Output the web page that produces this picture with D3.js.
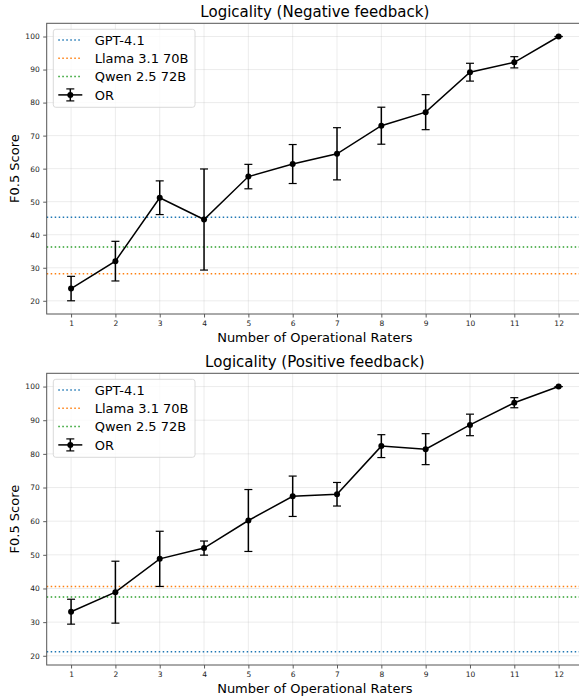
<!DOCTYPE html>
<html>
<head>
  <meta charset="utf-8">
  <script src="https://d3js.org/d3.v7.min.js"></script>
  <style>
    body { margin: 0; background: #fff; }
    svg { display: block; font-family: "DejaVu Sans", sans-serif; }
  </style>
</head>
<body>
  <svg width="579" height="697"></svg>
  <script>
    // data
    const raters = [1, 2, 3, 4, 5, 6, 7, 8, 9, 10, 11, 12];
    const xTicks = [1, 2, 3, 4, 5, 6, 7, 8, 9, 10, 11, 12];
    const yTicks = [20, 30, 40, 50, 60, 70, 80, 90, 100];

    const negMean = [23.7, 32.0, 51.2, 44.6, 57.6, 61.4, 64.5, 73.0, 77.1, 89.2, 92.2, 100];
    const negErr  = [3.7, 6.0, 5.1, 15.3, 3.7, 5.9, 7.9, 5.6, 5.3, 2.7, 1.7, 0];
    const negBase = [45.3, 28.2, 36.3];   // GPT-4.1, Llama, Qwen

    const posMean = [33.1, 38.9, 48.8, 52.0, 60.2, 67.4, 68.0, 82.3, 81.4, 88.6, 95.2, 100];
    const posErr  = [3.7, 9.2, 8.2, 2.1, 9.2, 6.0, 3.5, 3.4, 4.6, 3.2, 1.5, 0];
    const posBase = [21.2, 40.6, 37.5];

    const modelNames = ["GPT-4.1", "Llama 3.1 70B", "Qwen 2.5 72B"];
    const modelColors = ["#1f77b4", "#ff7f0e", "#2ca02c"];

    const svg = d3.select("svg");

    function drawPanel(top, bottom, title, mean, err, base, yDomain) {
      const left = 46.7, right = 583;
      const g = svg.append("g");

      const x = d3.scaleLinear().domain([0.45, 12.55]).range([left, right]);
      const y = d3.scaleLinear().domain(yDomain).range([bottom, top]);

      // grid
      g.append("g").selectAll("line").data(xTicks).join("line")
        .attr("x1", d => x(d)).attr("x2", d => x(d))
        .attr("y1", top).attr("y2", bottom)
        .attr("stroke", "#b0b0b0").attr("stroke-opacity", 0.3).attr("stroke-width", 0.8);
      g.append("g").selectAll("line").data(yTicks).join("line")
        .attr("x1", left).attr("x2", right)
        .attr("y1", d => y(d)).attr("y2", d => y(d))
        .attr("stroke", "#b0b0b0").attr("stroke-opacity", 0.3).attr("stroke-width", 0.8);

      // baseline models
      g.append("g").selectAll("line").data(base).join("line")
        .attr("x1", left).attr("x2", right)
        .attr("y1", d => y(d)).attr("y2", d => y(d))
        .attr("stroke", (d, i) => modelColors[i])
        .attr("stroke-width", 1.5)
        .attr("stroke-dasharray", "1.5,2.5");

      // error bars
      const eb = g.append("g").selectAll("g").data(raters).join("g");
      eb.append("line")
        .attr("x1", d => x(d)).attr("x2", d => x(d))
        .attr("y1", (d, i) => y(mean[i] - err[i]))
        .attr("y2", (d, i) => y(mean[i] + err[i]))
        .attr("stroke", "#000").attr("stroke-width", 1.5);
      eb.append("line")
        .attr("x1", d => x(d) - 4).attr("x2", d => x(d) + 4)
        .attr("y1", (d, i) => y(mean[i] - err[i]))
        .attr("y2", (d, i) => y(mean[i] - err[i]))
        .attr("stroke", "#000").attr("stroke-width", 1.2);
      eb.append("line")
        .attr("x1", d => x(d) - 4).attr("x2", d => x(d) + 4)
        .attr("y1", (d, i) => y(mean[i] + err[i]))
        .attr("y2", (d, i) => y(mean[i] + err[i]))
        .attr("stroke", "#000").attr("stroke-width", 1.2);

      // line + markers
      const line = d3.line().x((d, i) => x(raters[i])).y(d => y(d));
      g.append("path").datum(mean)
        .attr("d", line)
        .attr("fill", "none").attr("stroke", "#000").attr("stroke-width", 1.5);
      g.append("g").selectAll("circle").data(mean).join("circle")
        .attr("cx", (d, i) => x(raters[i])).attr("cy", d => y(d))
        .attr("r", 3).attr("fill", "#000");

      // axes
      const xAxis = g.append("g").attr("transform", `translate(0,${bottom})`)
        .call(d3.axisBottom(x).tickValues(xTicks).tickSize(3.5).tickPadding(3.5));
      const yAxis = g.append("g").attr("transform", `translate(${left},0)`)
        .call(d3.axisLeft(y).tickValues(yTicks).tickSize(3.5).tickPadding(3.5));
      [xAxis, yAxis].forEach(a => {
        a.select(".domain").remove();
        a.selectAll("line").attr("stroke", "#333").attr("stroke-width", 0.8);
        a.selectAll("text").attr("font-size", 7.5).attr("fill", "#222")
          .attr("font-family", "DejaVu Sans");
      });

      // spines
      g.append("rect")
        .attr("x", left).attr("y", top)
        .attr("width", right - left).attr("height", bottom - top)
        .attr("fill", "none").attr("stroke", "#555").attr("stroke-width", 1);

      // titles
      g.append("text")
        .attr("x", (left + right) / 2).attr("y", top - 6)
        .attr("text-anchor", "middle").attr("font-size", 15)
        .text(title);
      g.append("text")
        .attr("x", (left + right) / 2).attr("y", bottom + 28)
        .attr("text-anchor", "middle").attr("font-size", 13)
        .text("Number of Operational Raters");
      g.append("text")
        .attr("transform", `translate(19,${(top + bottom) / 2}) rotate(-90)`)
        .attr("text-anchor", "middle").attr("font-size", 13)
        .text("F0.5 Score");

      // legend
      const lg = g.append("g").attr("transform", `translate(${left + 6.6},${top + 6})`);
      lg.append("rect")
        .attr("width", 141.7).attr("height", 78)
        .attr("rx", 2.5)
        .attr("fill", "#fff").attr("fill-opacity", 0.8)
        .attr("stroke", "#d0d0d0").attr("stroke-width", 0.8);
      const items = modelNames.map((n, i) => ({ name: n, color: modelColors[i], dotted: true }))
        .concat([{ name: "OR", color: "#000", dotted: false }]);
      const row = lg.selectAll("g").data(items).join("g")
        .attr("transform", (d, i) => `translate(0,${10.7 + i * 18.3})`);
      row.append("line")
        .attr("x1", 5).attr("x2", 29)
        .attr("stroke", d => d.color)
        .attr("stroke-width", 1.5)
        .attr("stroke-dasharray", d => d.dotted ? "1.5,2.5" : null);
      row.filter(d => !d.dotted).each(function () {
        const r = d3.select(this);
        r.append("line").attr("x1", 17).attr("x2", 17).attr("y1", -6).attr("y2", 6)
          .attr("stroke", "#000").attr("stroke-width", 1.5);
        r.append("line").attr("x1", 13).attr("x2", 21).attr("y1", -6).attr("y2", -6)
          .attr("stroke", "#000").attr("stroke-width", 1.2);
        r.append("line").attr("x1", 13).attr("x2", 21).attr("y1", 6).attr("y2", 6)
          .attr("stroke", "#000").attr("stroke-width", 1.2);
        r.append("circle").attr("cx", 17).attr("r", 3).attr("fill", "#000");
      });
      row.append("text")
        .attr("x", 41.4).attr("y", 4.6)
        .attr("font-size", 13)
        .text(d => d.name);
    }

    drawPanel(23.3, 314, "Logicality (Negative feedback)", negMean, negErr, negBase, [16, 104]);
    drawPanel(373.3, 665, "Logicality (Positive feedback)", posMean, posErr, posBase, [17.26, 103.94]);
  </script>
</body>
</html>
